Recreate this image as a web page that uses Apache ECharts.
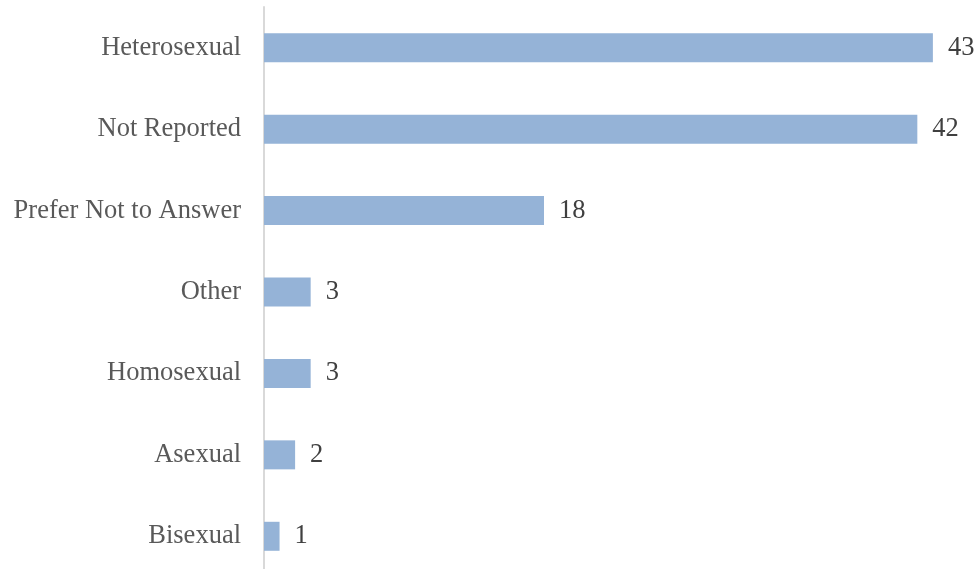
<!DOCTYPE html>
<html><head><meta charset="utf-8">
<script src="https://cdn.jsdelivr.net/npm/echarts@6/dist/echarts.min.js"></script>
<style>html,body{margin:0;padding:0;background:#fff;overflow:hidden}#c{width:979px;height:577px}</style>
</head><body><div id="c"></div>
<script>
const categories = ["Heterosexual","Not Reported","Prefer Not to Answer","Other","Homosexual","Asexual","Bisexual"];
const counts = [43,42,18,3,3,2,1];
const chart = echarts.init(document.getElementById('c'), null, {renderer:'canvas'});
chart.setOption({
  animation:false,
  grid:{left:264,width:700,top:7,bottom:0,containLabel:false},
  xAxis:{type:'value',min:0,max:45,show:false},
  yAxis:{type:'category',inverse:true,data:categories,
    axisLine:{show:true,lineStyle:{color:'#d9d9d9',width:2}},
    axisTick:{show:false},
    axisLabel:{margin:23,fontFamily:'Liberation Serif',fontSize:26.5,color:'#595959',padding:[2,0,0,0]}},
  series:[{type:'bar',data:counts,barWidth:29,
    itemStyle:{color:'#95b3d7'},
    label:{show:true,position:'right',distance:15,fontFamily:'Liberation Serif',fontSize:26.5,color:'#404040',padding:[2,0,0,0]}}]
});
</script></body></html>
